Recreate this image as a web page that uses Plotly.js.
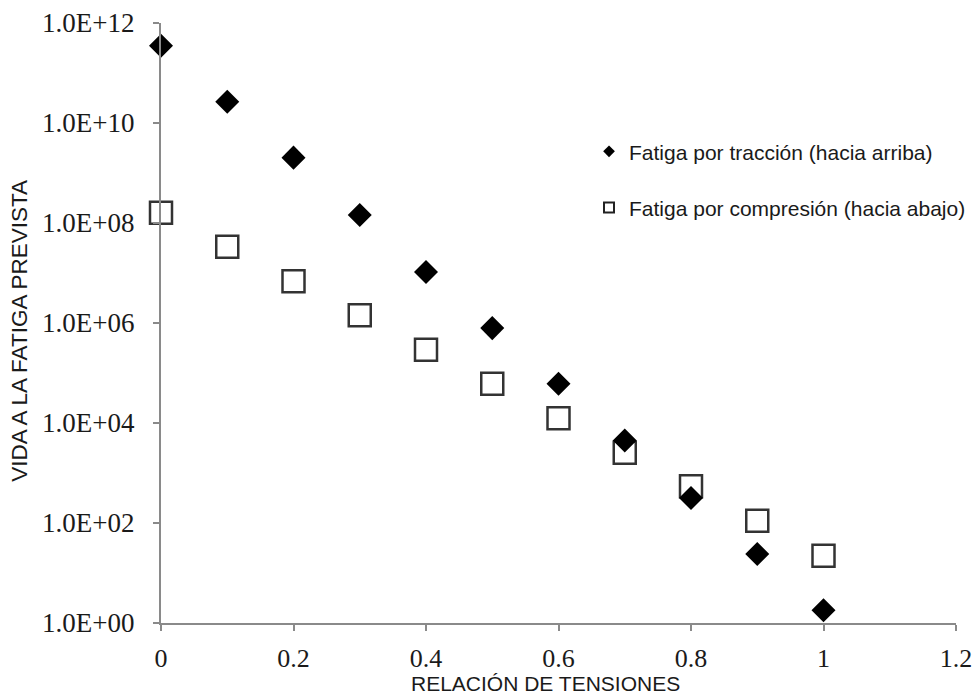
<!DOCTYPE html>
<html>
<head>
<meta charset="utf-8">
<script src="https://cdn.plot.ly/plotly-3.0.1.min.js"></script>
<style>html,body{margin:0;padding:0;background:#fff;}#chart{width:976px;height:695px;}</style>
</head>
<body>
<div id="chart"></div>
<script>
// Stress ratio (x) and predicted fatigue life (y)
const stressRatio = [0, 0.1, 0.2, 0.3, 0.4, 0.5, 0.6, 0.7, 0.8, 0.9, 1.0];
const tensionLife = [3.5e11, 2.67e10, 2.03e9, 1.44e8, 1.05e7, 7.9e5, 6.1e4, 4.46e3, 317, 23.9, 1.8];
const compressionLife = [1.6e8, 3.34e7, 6.85e6, 1.43e6, 2.93e5, 6.1e4, 1.25e4, 2.53e3, 541, 111, 22.1];
const seriesNames = ['Fatiga por tracción (hacia arriba)', 'Fatiga por compresión (hacia abajo)'];
const yTickVals = [1, 1e2, 1e4, 1e6, 1e8, 1e10, 1e12];
const yTickText = ['1.0E+00', '1.0E+02', '1.0E+04', '1.0E+06', '1.0E+08', '1.0E+10', '1.0E+12'];
const xTickVals = [0, 0.2, 0.4, 0.6, 0.8, 1, 1.2];
const xTickText = ['0', '0.2', '0.4', '0.6', '0.8', '1', '1.2'];
const xTitle = 'RELACIÓN DE TENSIONES';
const yTitle = 'VIDA A LA FATIGA PREVISTA';

const sans = 'Liberation Sans, Arial, sans-serif';
const serif = 'Liberation Serif, Times New Roman, serif';

const traces = [
  {x: stressRatio, y: compressionLife, type: 'scatter', mode: 'markers', showlegend: false, cliponaxis: false,
   marker: {symbol: 'square', size: 22, color: '#ffffff', line: {color: '#333333', width: 2.5}}},
  {x: stressRatio, y: tensionLife, type: 'scatter', mode: 'markers', showlegend: false, cliponaxis: false,
   marker: {symbol: 'diamond', size: 18.5, color: '#000000', line: {width: 0}}},
  {x: [null], y: [null], type: 'scatter', mode: 'markers', name: seriesNames[0], legend: 'legend',
   marker: {symbol: 'diamond', size: 9, color: '#000000', line: {width: 0}}},
  {x: [null], y: [null], type: 'scatter', mode: 'markers', name: seriesNames[1], legend: 'legend2',
   marker: {symbol: 'square', size: 10, color: '#ffffff', line: {color: '#222222', width: 2}}}
];

const legendCommon = {xanchor: 'left', yanchor: 'middle', bgcolor: 'rgba(0,0,0,0)',
  font: {family: sans, size: 21, color: '#1a1a1a'}, borderwidth: 0};

const layout = {
  width: 976, height: 695,
  margin: {l: 161, r: 20, t: 23, b: 72, pad: 0, autoexpand: false},
  paper_bgcolor: '#ffffff', plot_bgcolor: '#ffffff',
  xaxis: {range: [0, 1.2], tickvals: xTickVals, ticktext: xTickText, showgrid: false, zeroline: false,
    showline: true, linecolor: '#8a8a8a', linewidth: 2, ticks: 'outside', ticklen: 6, tickwidth: 2,
    tickcolor: '#8a8a8a', tickfont: {family: serif, size: 26, color: '#1a1a1a'}, ticklabelstandoff: 5,
    automargin: false},
  yaxis: {type: 'log', range: [0, 12], tickvals: yTickVals, ticktext: yTickText, showgrid: false, zeroline: false,
    showline: true, linecolor: '#8a8a8a', linewidth: 2, ticks: 'outside', ticklen: 6, tickwidth: 2,
    tickcolor: '#8a8a8a', tickfont: {family: serif, size: 27, color: '#1a1a1a'}, ticklabelstandoff: 13,
    automargin: false},
  legend: Object.assign({x: 0.5384, y: 0.7855}, legendCommon),
  legend2: Object.assign({x: 0.5384, y: 0.692}, legendCommon),
  annotations: [
    {text: xTitle, xref: 'paper', yref: 'paper', x: 0.4836, y: -0.1228, xanchor: 'center', yanchor: 'bottom',
     showarrow: false, font: {family: sans, size: 21, color: '#1a1a1a'}},
    {text: yTitle, xref: 'paper', yref: 'paper', x: -0.1774, y: 0.487, xanchor: 'center', yanchor: 'middle',
     textangle: -90, showarrow: false, font: {family: sans, size: 22.5, color: '#1a1a1a'}}
  ]
};

Plotly.newPlot('chart', traces, layout, {displayModeBar: false, staticPlot: true});
</script>
</body>
</html>
